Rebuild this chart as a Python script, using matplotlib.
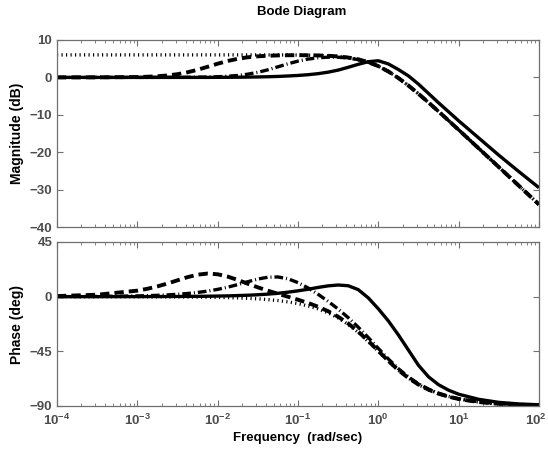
import matplotlib
matplotlib.use("Agg")
import matplotlib.pyplot as plt
from matplotlib.ticker import FixedLocator, LogLocator, NullFormatter
from matplotlib.transforms import ScaledTranslation

# ---- data (log-spaced frequency grid, rad/sec) ----
freq = [1e-4, 3.162e-4, 1e-3, 1.334e-3, 1.778e-3, 2.371e-3, 3.162e-3, 4.217e-3,
        5.623e-3, 7.499e-3, 0.01, 0.01334, 0.01778, 0.02371, 0.03162, 0.04217,
        0.05623, 0.07499, 0.1, 0.1334, 0.1778, 0.2371, 0.3162, 0.4217,
        0.5623, 0.7499, 1.0, 1.334, 1.778, 2.371, 3.162, 4.217,
        5.623, 7.499, 10.0, 17.78, 31.62, 56.23, 100.0]

mag_solid = [0.00, 0.00, 0.00, 0.00, 0.00, 0.00, 0.00, 0.00,
             0.00, 0.00, 0.02, 0.03, 0.05, 0.08, 0.12, 0.18,
             0.26, 0.38, 0.52, 0.72, 1.00, 1.40, 1.95, 2.70,
             3.50, 4.20, 4.45, 3.60, 2.10, 0.40, -1.80, -4.30,
             -6.80, -9.20, -11.60, -16.20, -20.80, -25.20, -29.50]
mag_dashed = [0.00, 0.01, 0.10, 0.18, 0.31, 0.52, 0.86, 1.37,
              2.04, 2.84, 3.66, 4.40, 4.97, 5.38, 5.64, 5.79,
              5.88, 5.92, 5.94, 5.92, 5.87, 5.78, 5.60, 5.31,
              4.83, 4.08, 3.01, 1.58, -0.17, -2.19, -4.39, -6.72,
              -9.11, -11.56, -14.02, -18.99, -23.98, -28.98, -33.98]
mag_dashdot = [0.00, 0.00, 0.00, 0.00, 0.01, 0.01, 0.02, 0.03,
               0.06, 0.10, 0.18, 0.31, 0.52, 0.86, 1.36, 2.03,
               2.83, 3.64, 4.35, 4.90, 5.24, 5.40, 5.39, 5.18,
               4.75, 4.04, 2.99, 1.57, -0.18, -2.19, -4.40, -6.72,
               -9.12, -11.56, -14.02, -18.99, -23.98, -28.98, -33.98]
mag_dotted = [6.02, 6.02, 6.02, 6.02, 6.02, 6.02, 6.02, 6.02,
              6.02, 6.02, 6.02, 6.02, 6.02, 6.02, 6.02, 6.01,
              6.01, 6.00, 5.98, 5.94, 5.89, 5.78, 5.61, 5.31,
              4.83, 4.08, 3.01, 1.58, -0.17, -2.19, -4.39, -6.72,
              -9.11, -11.56, -14.02, -18.99, -23.98, -28.98, -33.98]

ph_solid = [0.00, 0.01, 0.03, 0.07, 0.09, 0.12, 0.16, 0.21,
            0.28, 0.37, 0.50, 0.66, 0.89, 1.18, 1.57, 2.09,
            2.79, 3.69, 4.80, 6.10, 7.60, 8.90, 9.60, 9.00,
            5.80, -1.00, -10.00, -20.00, -31.50, -44.00, -56.50, -66.00,
            -72.50, -77.00, -80.30, -84.50, -87.00, -88.30, -89.00]
ph_dashed = [0.50, 1.59, 4.95, 6.50, 8.46, 10.82, 13.47, 16.07,
             18.11, 19.02, 18.43, 16.52, 13.75, 10.67, 7.68, 4.92,
             2.38, -0.05, -2.51, -5.19, -8.28, -11.98, -16.53, -22.10,
             -28.79, -36.44, -44.68, -52.89, -60.47, -67.00, -72.35, -76.58,
             -79.86, -82.36, -84.26, -86.76, -88.18, -88.98, -89.42]
ph_dashdot = [0.06, 0.20, 0.62, 0.83, 1.11, 1.47, 1.96, 2.61,
              3.46, 4.57, 6.01, 7.80, 9.94, 12.30, 14.50, 16.02,
              16.23, 14.72, 11.57, 7.17, 1.95, -3.85, -10.21, -17.27,
              -25.12, -33.67, -42.59, -51.33, -59.29, -66.12, -71.69, -76.09,
              -79.49, -82.08, -84.05, -86.65, -88.11, -88.94, -89.40]
ph_dotted = [-0.01, -0.02, -0.06, -0.08, -0.10, -0.14, -0.18, -0.24,
             -0.32, -0.43, -0.57, -0.76, -1.02, -1.36, -1.81, -2.42,
             -3.22, -4.29, -5.71, -7.60, -10.08, -13.34, -17.55, -22.87,
             -29.36, -36.87, -45.00, -53.14, -60.65, -67.13, -72.45, -76.66,
             -79.92, -82.41, -84.29, -86.78, -88.19, -88.98, -89.43]

mag_ticks = [10, 0, -10, -20, -30, -40]
ph_ticks = [45, 0, -45, -90]
x_ticks = [1e-4, 1e-3, 1e-2, 1e-1, 1e0, 1e1, 1e2]
x_ticklabels = [r'$\mathbf{10^{-4}}$', r'$\mathbf{10^{-3}}$', r'$\mathbf{10^{-2}}$',
                r'$\mathbf{10^{-1}}$', r'$\mathbf{10^{0}}$', r'$\mathbf{10^{1}}$',
                r'$\mathbf{10^{2}}$']

# ---- styling ----
plt.rcParams['font.family'] = ['Liberation Sans', 'DejaVu Sans']
plt.rcParams['mathtext.fontset'] = 'custom'
plt.rcParams['mathtext.rm'] = 'Liberation Sans'
plt.rcParams['mathtext.bf'] = 'Liberation Sans:bold'
plt.rcParams['axes.unicode_minus'] = True

tick_col = '#4d4d4d'
frame_col = '#707070'

fig = plt.figure(figsize=(5.48, 4.58), dpi=100)
ax1 = fig.add_axes([57/548, 1-227/458, 482/548, 187/458])
ax2 = fig.add_axes([57/548, 1-406/458, 482/548, 164/458])

styles = [
    dict(ls='-', lw=2.4),
    dict(ls=(0, (2.4, 1.3)), lw=2.8),
    dict(ls=(0, (2.6, 0.9, 0.3, 0.9)), lw=2.4),
    dict(ls=(0, (0.35, 1.0)), lw=2.4),
]

mags = [mag_solid, mag_dashed, mag_dashdot, mag_dotted]
phs = [ph_solid, ph_dashed, ph_dashdot, ph_dotted]
order = [3, 2, 1, 0]
for i in order:
    ax1.plot(freq, mags[i], color='black', solid_capstyle='butt',
             dash_capstyle='butt', **styles[i])
    ax2.plot(freq, phs[i], color='black', solid_capstyle='butt',
             dash_capstyle='butt', **styles[i])

for ax in (ax1, ax2):
    ax.set_xscale('log')
    ax.set_xlim(1e-4, 1e2)
    ax.xaxis.set_major_locator(FixedLocator(x_ticks))
    ax.xaxis.set_minor_locator(LogLocator(base=10, subs=range(2, 10), numticks=20))
    ax.xaxis.set_minor_formatter(NullFormatter())
    ax.tick_params(which='both', direction='in', top=True, right=True,
                   color=frame_col, labelcolor=tick_col, labelsize=9.5)
    ax.tick_params(which='major', length=4, width=0.8)
    ax.tick_params(which='minor', length=2.2, width=0.6)
    for s in ax.spines.values():
        s.set_color(frame_col)
        s.set_linewidth(0.9)

ax1.set_ylim(-40, 10)
ax1.set_yticks(mag_ticks)
ax1.set_yticklabels([str(t).replace('-', '\u2212') for t in mag_ticks],
                    fontweight='bold')
ax1.set_xticklabels([])

ax2.set_ylim(-90, 45)
ax2.set_yticks(ph_ticks)
ax2.set_yticklabels([str(t).replace('-', '\u2212') for t in ph_ticks],
                    fontweight='bold')
ax2.set_xticklabels(x_ticklabels)
ax2.tick_params(axis='x', pad=5)
last = ax2.get_xticklabels()[-1]
last.set_transform(last.get_transform() +
                   ScaledTranslation(-2.5/72, 0, fig.dpi_scale_trans))

ax1.set_ylabel('Magnitude (dB)', fontsize=10, fontweight='bold', labelpad=4)
ax2.set_ylabel('Phase (deg)', fontsize=10, fontweight='bold', labelpad=4)
ax2.set_xlabel('Frequency  (rad/sec)', fontsize=9.5, fontweight='bold', labelpad=3)
fig.text(0.55, 1-12/458, 'Bode Diagram', ha='center', va='center',
         fontsize=9.5, fontweight='bold')

fig.savefig('out.png', dpi=100)
